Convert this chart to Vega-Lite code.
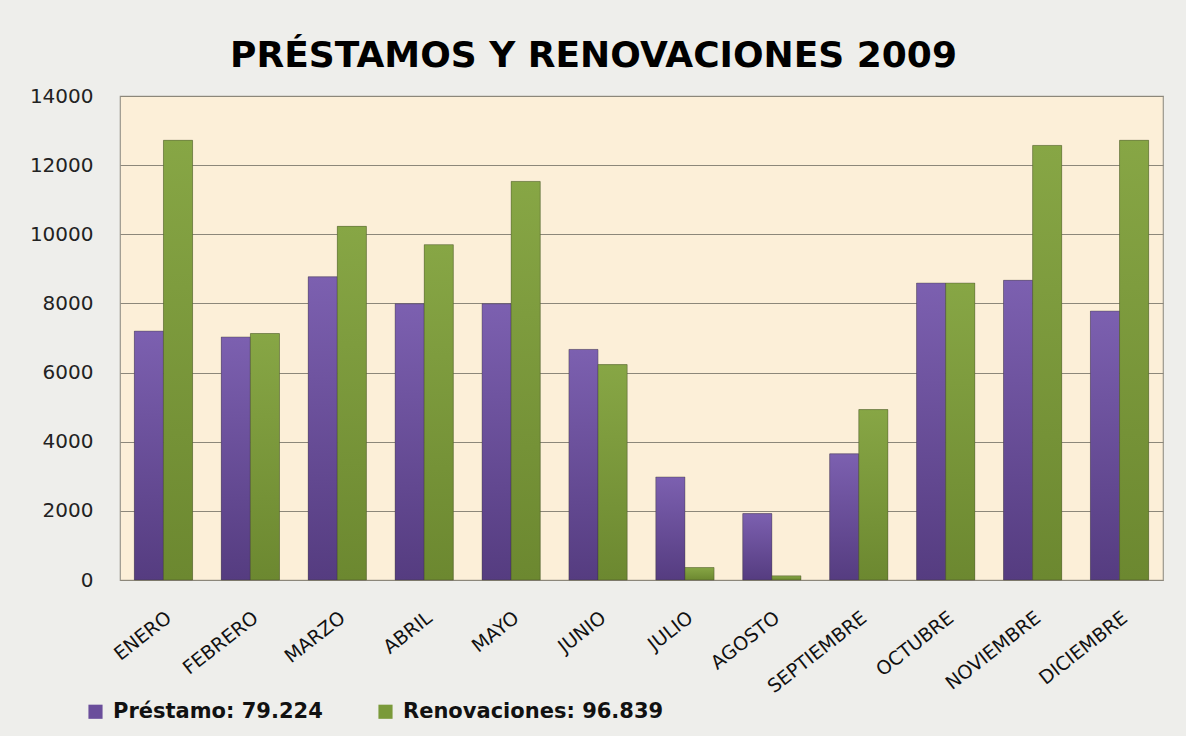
{
  "$schema": "https://vega.github.io/schema/vega-lite/v6.json",
  "autosize": {"type": "none"},
  "padding": {"left": 120, "top": 96, "right": 23, "bottom": 156},
  "width": 1043,
  "height": 484,
  "background": "#eeeeeb",
  "title": {
    "text": "PRÉSTAMOS Y RENOVACIONES 2009",
    "font": "DejaVu Sans",
    "fontSize": 36,
    "fontWeight": "bold",
    "color": "#000000",
    "anchor": "middle",
    "dx": -48,
    "offset": 11
  },
  "config": {
    "view": {"fill": "#fcefd8", "stroke": "#9a968c", "strokeWidth": 1.2}
  },
  "data": {
    "values": [
      {"mes": "ENERO", "serie": "Préstamo: 79.224", "valor": 7200},
      {"mes": "ENERO", "serie": "Renovaciones: 96.839", "valor": 12720},
      {"mes": "FEBRERO", "serie": "Préstamo: 79.224", "valor": 7030},
      {"mes": "FEBRERO", "serie": "Renovaciones: 96.839", "valor": 7130},
      {"mes": "MARZO", "serie": "Préstamo: 79.224", "valor": 8770},
      {"mes": "MARZO", "serie": "Renovaciones: 96.839", "valor": 10230},
      {"mes": "ABRIL", "serie": "Préstamo: 79.224", "valor": 7990},
      {"mes": "ABRIL", "serie": "Renovaciones: 96.839", "valor": 9700},
      {"mes": "MAYO", "serie": "Préstamo: 79.224", "valor": 7990},
      {"mes": "MAYO", "serie": "Renovaciones: 96.839", "valor": 11530},
      {"mes": "JUNIO", "serie": "Préstamo: 79.224", "valor": 6670},
      {"mes": "JUNIO", "serie": "Renovaciones: 96.839", "valor": 6230},
      {"mes": "JULIO", "serie": "Préstamo: 79.224", "valor": 2980},
      {"mes": "JULIO", "serie": "Renovaciones: 96.839", "valor": 360},
      {"mes": "AGOSTO", "serie": "Préstamo: 79.224", "valor": 1920},
      {"mes": "AGOSTO", "serie": "Renovaciones: 96.839", "valor": 120},
      {"mes": "SEPTIEMBRE", "serie": "Préstamo: 79.224", "valor": 3650},
      {"mes": "SEPTIEMBRE", "serie": "Renovaciones: 96.839", "valor": 4930},
      {"mes": "OCTUBRE", "serie": "Préstamo: 79.224", "valor": 8590},
      {"mes": "OCTUBRE", "serie": "Renovaciones: 96.839", "valor": 8590},
      {"mes": "NOVIEMBRE", "serie": "Préstamo: 79.224", "valor": 8670},
      {"mes": "NOVIEMBRE", "serie": "Renovaciones: 96.839", "valor": 12570},
      {"mes": "DICIEMBRE", "serie": "Préstamo: 79.224", "valor": 7780},
      {"mes": "DICIEMBRE", "serie": "Renovaciones: 96.839", "valor": 12720}
    ]
  },
  "encoding": {
    "x": {
      "field": "mes",
      "type": "nominal",
      "sort": null,
      "title": null,
      "scale": {"paddingInner": 0.33, "paddingOuter": 0.165},
      "axis": {
        "labelAngle": -38,
        "labelFont": "DejaVu Sans",
        "labelFontSize": 19,
        "labelColor": "#111111",
        "labelPadding": 28,
        "ticks": false,
        "domain": false
      }
    },
    "xOffset": {
      "field": "serie",
      "type": "nominal",
      "scale": {"paddingInner": 0, "paddingOuter": 0}
    },
    "y": {
      "field": "valor",
      "type": "quantitative",
      "title": null,
      "scale": {"domain": [0, 14000], "nice": false},
      "axis": {
        "values": [0, 2000, 4000, 6000, 8000, 10000, 12000, 14000],
        "format": "d",
        "labelFont": "DejaVu Sans",
        "labelFontSize": 20,
        "labelColor": "#222222",
        "labelPadding": 27,
        "ticks": false,
        "domain": false,
        "gridColor": "#8c877a",
        "gridWidth": 1
      }
    }
  },
  "layer": [
    {
      "mark": {"type": "bar"},
      "encoding": {
        "color": {
          "field": "serie",
          "type": "nominal",
          "scale": {"range": ["#6a4e9b", "#7a9a3a"]},
          "legend": {
            "title": null,
            "orient": "none",
            "direction": "horizontal",
            "legendX": -35,
            "legendY": 605,
            "symbolType": "square",
            "symbolSize": 200,
            "symbolStrokeWidth": 0,
            "symbolOpacity": 1,
            "labelFont": "DejaVu Sans",
            "labelFontSize": 21,
            "labelFontWeight": "bold",
            "labelColor": "#111111",
            "labelLimit": 400,
            "columnPadding": 52,
            "labelOffset": 7
          }
        }
      }
    },
    {
      "mark": {"type": "bar", "stroke": "#3a3a2a", "strokeWidth": 0.6, "strokeOpacity": 0.6},
      "encoding": {
        "fill": {
          "condition": {
            "test": "datum.serie === 'Préstamo: 79.224'",
            "value": {
              "gradient": "linear", "x1": 0, "y1": 0, "x2": 0, "y2": 1,
              "stops": [
                {"offset": 0, "color": "#7c60b0"},
                {"offset": 1, "color": "#553c80"}
              ]
            }
          },
          "value": {
            "gradient": "linear", "x1": 0, "y1": 0, "x2": 0, "y2": 1,
            "stops": [
              {"offset": 0, "color": "#87a645"},
              {"offset": 1, "color": "#6c8830"}
            ]
          }
        }
      }
    }
  ]
}
